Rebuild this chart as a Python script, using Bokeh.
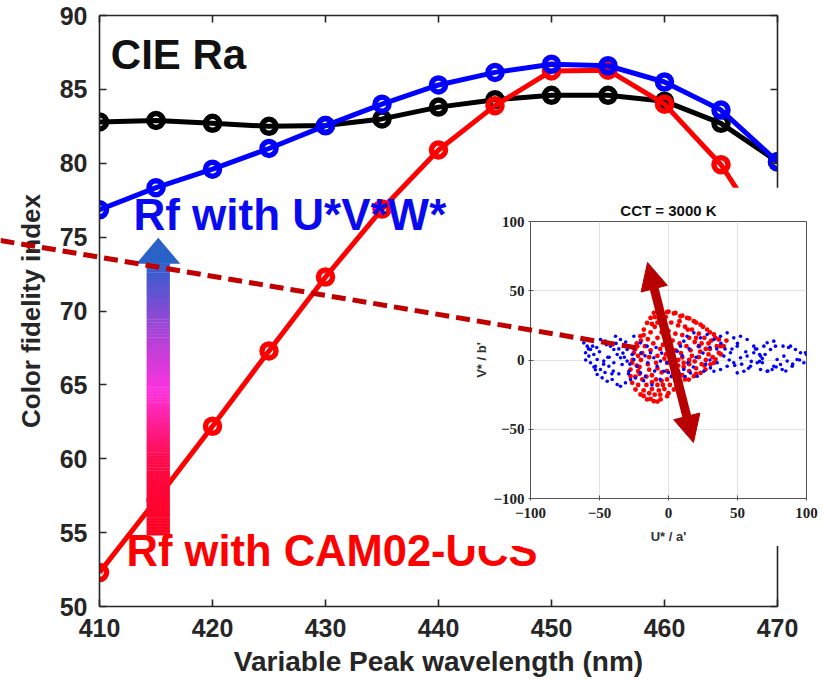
import numpy as np
from bokeh.plotting import figure
from bokeh.models import Range1d, LinearAxis, FixedTicker, Arrow, NormalHead, Label
from bokeh.embed import file_html
from bokeh.resources import INLINE

# ---------------- data ----------------
wavelength = [410, 415, 420, 425, 430, 435, 440, 445, 450, 455, 460, 465, 470]
cie_ra = [82.8, 82.9, 82.7, 82.5, 82.55, 83.0, 83.8, 84.3, 84.6, 84.6, 84.2, 82.7, 80.1]
rf_uvw = [76.85, 78.35, 79.6, 81.0, 82.55, 84.0, 85.3, 86.15, 86.7, 86.6, 85.5, 83.6, 80.1]
rf_cam = [52.3, 57.2, 62.2, 67.3, 72.3, 76.9, 80.9, 83.9, 86.25, 86.3, 84.0, 79.9, 74.0]
x_ticks = [410, 420, 430, 440, 450, 460, 470]
y_ticks = [50, 55, 60, 65, 70, 75, 80, 85, 90]

inset_ticks = [-100, -50, 0, 50, 100]
red_u = [-10.6, -5.8, -1.0, 3.9, 8.7, 13.5, 18.4, 23.2, 28.0, 32.9, 36.5, 37.7, 36.5, 34.1, 30.4, 26.8, 23.2, 18.4, 14.7, 8.7,
         3.9, -1.0, -5.8, -10.6, -15.5, -20.3, -23.9, -26.3, -27.5, -27.5, -26.3, -25.1, -22.7, -20.3, -17.9, -15.5, -13.0,
         -8, -3, 2, 7, 12, 17, 22, 26, 29, 30, 29, 27, 24, 20, 15, 10, 5, 1, -3, -7, -12, -16, -19, -21, -21, -20, -19, -17, -15, -13, -10,
         -5, 0, 5, 10, 15, 19, 22, 23, 22, 19, 15, 11, 7, 3, -1, -5, -9, -12, -14, -15, -14, -13, -11, -8,
         -2, 3, 8, 13, 16, 17, 15, 11, 7, 3, -1, -5, -8, -9, -8, -6, -4,
         1, 5, 9, 10, 7, 3, -1, -3, -2, 3,
         -24, -26, -22, -18, -13, -8, 0, 6, 12, 20, 26, 32, 35, 34, 30, 25, 20, 15, 10, 5, 0, -5, -10, -20, -23, 40, 42, 38, 33,
         -24, -22, -18, -14, -10, -6, -16, -12, -8, -4, 24, 27, 31, 20, 14, 8, -2, -7, -12, -18, -22, -23]
red_v = [34.1, 35.3, 34.5, 33.6, 31.6, 30.4, 28.0, 25.6, 22.0, 18.4, 14.8, 10.0, 5.2, 0.4, -3.2, -6.9, -9.3, -11.7, -14.1, -16.5,
         -21.3, -26.1, -28.5, -29.7, -28.5, -24.9, -21.3, -16.5, -11.7, -6.9, -2.0, 5.2, 10.0, 17.2, 22.0, 26.8, 30.4,
         27, 28, 27, 25, 24, 22, 19, 16, 12, 8, 4, 0, -3, -6, -8, -11, -14, -18, -21, -22, -21, -18, -14, -10, -5, 0, 5, 10, 15, 20, 24,
         20, 21, 19, 18, 16, 13, 10, 6, 2, -1, -3, -5, -8, -11, -14, -15, -14, -11, -7, -3, 2, 7, 12, 16,
         13, 14, 12, 10, 7, 3, 0, -2, -4, -6, -8, -9, -6, -2, 3, 8, 11,
         7, 7, 5, 2, 0, -1, -2, 1, 4, 3,
         8, 0, -18, -26, -28, -30, -24, -19, -14, -10, -4, 2, 10, 16, 20, 24, 27, 30, 32, 34, 35, 33, 31, 14, 12, 10, 14, 4, -2,
         -12, -8, -22, -24, -25, -25, -12, -16, -18, -18, 12, 8, 14, 16, 22, 28, 31, 30, 26, 18, 3, -4]
blue_u = [-61.4, -58.9, -56.5, -60.1, -57.7, -54.1, -51.7, -56.5, -52.9, -49.3, -51.7, -48.1, -44.4, -40.8, -37.2, -34.8, -31.2, -27.5,
          -49.3, -45.7, -42.0, -39.6, -37.2, -34.8, -39.6, -43.2, -46.9, -38.4, -34.8, -32.4, -30.0, -26.3, -30.0, -33.6, -25.1,
          -22.7, -20.3, -16.7, -28.7, -25.1, -20.3, -15.5, -13.0, -10.6, -5.8, -8.2, -3.4, -1.0, 2.7, 6.3, 8.7, 11.1, 13.5, 18.4,
          23.2, 28.0, 32.9, 37.7, 42.5, 47.3, 52.2, 57.0, 49.8, 44.9, 40.1, 35.3, 30.4, 25.6, 20.8, 15.9, 11.1, 32.9, 37.7, 42.5,
          47.3, 52.2, 57.0, 61.8, 66.7, 64.3, 59.4, 54.6, 49.8, 61.8, 69.1, 71.5, 76.3, 77.5, 73.9, 78.7, 81.2, 76.3, 71.5, 66.7,
          83.6, 86.0, 88.4, 92.0, 95.7, 93.2, 98.1, 99.3, 89.6, 82.4, 75.1,
          -20, -15, -10, -5, 0, 5, 10, 15, 20, 25, 30, -18, -12, -6, 2, 8, 14, 18, 22, 27, 35, 38, -25, -28, -32, -36, -40, -44,
          -46, -53, -55, -60, 44, 46, 50, 53, 56, 60, 63, 66, 68, 68, 66, 85, 78, 90, 95, 100, 87, 83, 72,
          -58, -54, -50, -47, -43, -41, -36, -33, -29, -45, -38, -52, -31, -24, -17, -9, 0, 12, 30, 41, 48, 58, 64, 70]
blue_v = [12.4, 10.0, 7.6, 5.2, 2.8, 4.0, 0.4, -2.0, -4.5, -6.9, -10.5, -12.9, -15.3, -14.1, -17.7, -18.9, -16.5, -14.1,
          14.8, 13.6, 10.0, 7.6, 4.0, 1.6, -2.0, -4.5, -0.8, 17.2, 14.8, 11.2, 7.6, 4.0, -0.8, -3.2, 0.4,
          -4.5, -9.3, -11.7, -8.1, 17.2, 12.4, 10.0, 5.2, 1.6, -0.8, -4.5, -8.1, -2.0, 2.8, 6.4, 10.0, 13.6, 17.2, 19.6,
          16.0, 18.4, 14.8, 17.2, 19.6, 16.0, 17.2, 14.8, 10.0, 5.2, 2.8, -2.0, -5.7, -8.1, -11.7, -9.3, -6.9, -8.1, -6.9, -4.5,
          -2.0, 1.6, 2.8, 5.2, 2.8, -2.0, -4.5, -8.1, -9.3, 10.0, 10.0, 12.4, 13.6, 10.0, 7.6, 0.4, -3.2, -4.5, -8.1, -6.9,
          2.8, -0.8, 10.0, 7.6, 5.2, 0.4, -2.0, 5.2, -4.5, -6.9, -6.9,
          5, -2, -8, 5, 8, -5, 3, 8, 2, 5, 0, -15, -18, -14, -12, -10, -2, -5, 10, -3, 8, 12, 8, -3, 2, 8, -8, 2,
          -9, -7, 10, 0, 0, 8, 12, -3, 6, -1, 8, 4, -2, 1, -1, -8, -5, -3, 0, 4, 9, 10, -8,
          8, -5, 6, -3, 2, -10, -10, 5, -10, 11, 12, 9, 13, -13, 3, 9, -9, -12, 9, 8, -4, -6, 8, 4]

# annotation positions (main-plot data units)
dash_x = [401.24, 457.9]
dash_y = [74.77, 67.46]

# ---------------- main figure ----------------
FL, FT, FW, FH, FR, FB = 99, 15, 678, 591, 50, 75
X0, X1, Y0, Y1 = 410, 470, 50, 90
AX = "#262626"
FONT = "Liberation Sans"

p = figure(x_range=Range1d(X0, X1), y_range=Range1d(Y0, Y1), width=FL + FW + FR, height=FT + FH + FB,
           min_border_left=FL, min_border_top=FT, min_border_right=FR, min_border_bottom=FB,
           output_backend="svg", toolbar_location=None, background_fill_color="white",
           border_fill_color="white", outline_line_color=None, sizing_mode="fixed")
p.xgrid.visible = False
p.ygrid.visible = False
p.xaxis.ticker = FixedTicker(ticks=x_ticks)
p.yaxis.ticker = FixedTicker(ticks=y_ticks)
for ax in (p.xaxis[0], p.yaxis[0]):
    ax.axis_line_color = AX
    ax.axis_line_width = 1.6
    ax.major_tick_line_color = AX
    ax.major_tick_line_width = 1.6
    ax.major_tick_in = 7
    ax.major_tick_out = 0
    ax.minor_tick_line_color = None
    ax.major_label_text_font = FONT
    ax.major_label_text_font_style = "bold"
    ax.major_label_text_font_size = "25px"
    ax.major_label_text_color = AX
    ax.axis_label_text_font = FONT
    ax.axis_label_text_font_style = "bold"
    ax.axis_label_text_color = AX
p.xaxis.axis_label_text_font_size = "28px"
p.yaxis.axis_label_text_font_size = "26px"
p.xaxis.major_label_standoff = 12
p.yaxis.major_label_standoff = 12
p.xaxis.axis_label = "Variable Peak wavelength (nm)"
p.yaxis.axis_label = "Color fidelity index"
p.xaxis.axis_label_standoff = 6
p.yaxis.axis_label_standoff = 11

for loc, tk in (("above", x_ticks), ("right", y_ticks)):
    a = LinearAxis(ticker=FixedTicker(ticks=tk), axis_line_color=AX, axis_line_width=1.6,
                   major_tick_line_color=AX, major_tick_line_width=1.6, major_tick_in=7, major_tick_out=0,
                   minor_tick_line_color=None, major_label_text_color=None, major_label_standoff=0)
    p.add_layout(a, loc)

for ys, col in ((cie_ra, "black"), (rf_cam, "#ff0000"), (rf_uvw, "#0000ff")):
    p.line(wavelength, ys, line_color=col, line_width=5, line_join="round")
    p.scatter(wavelength, ys, marker="circle", size=14, fill_color=None, line_color=col, line_width=5.5)

# gradient arrow
shaft_y0, shaft_y1, head_tip = 54.8, 73.2, 74.95
ax_c, shaft_hw, head_hw = 415.2, 1.03, 1.95
stops_y = [54.8, 60.0, 64.6, 68.7, 73.2]
stops_c = [(255, 0, 30), (255, 10, 75), (255, 50, 220), (165, 68, 215), (45, 95, 205)]
n = 92
edges = np.linspace(shaft_y0, shaft_y1, n + 1)
cols = []
for i in range(n):
    ym = 0.5 * (edges[i] + edges[i + 1])
    rgb = [int(round(np.interp(ym, stops_y, [c[k] for c in stops_c]))) for k in range(3)]
    cols.append("#%02x%02x%02x" % tuple(rgb))
p.quad(left=[ax_c - shaft_hw] * n, right=[ax_c + shaft_hw] * n, bottom=edges[:-1], top=edges[1:] + 0.03,
       fill_color=cols, line_color=None)
p.patch([ax_c - head_hw, ax_c + head_hw, ax_c], [shaft_y1, shaft_y1, head_tip], fill_color="#2a62c8", line_color=None)

p.add_layout(Label(x=411.0, y=85.8, text="CIE Ra", text_font=FONT, text_font_style="bold",
                   text_font_size="42px", text_color="#111111"))
p.add_layout(Label(x=413.0, y=74.9, text="Rf with U*V*W*", text_font=FONT, text_font_style="bold",
                   text_font_size="44px", text_color="#0a0af0"))
p.add_layout(Label(x=412.4, y=52.1, text="Rf with CAM02-UCS", text_font=FONT, text_font_style="bold",
                   text_font_size="43.5px", text_color="#ff0000"))

# ---------------- inset ----------------
IL, IT, IW, IH = 466, 187, 361, 359
inset = figure(x_range=Range1d(-100, 100), y_range=Range1d(-100, 100), width=IW, height=IH,
               min_border_left=64, min_border_top=34, min_border_right=21, min_border_bottom=47,
               output_backend="svg", toolbar_location=None, background_fill_color="white",
               border_fill_color="white", outline_line_color="#555555", outline_line_width=1,
               title="CCT = 3000 K", sizing_mode="fixed")
inset.title.align = "center"
inset.title.text_font = FONT
inset.title.text_font_size = "15px"
inset.title.text_font_style = "bold"
inset.title.text_color = "#111111"
inset.title.standoff = 6
inset.xaxis.ticker = FixedTicker(ticks=inset_ticks)
inset.yaxis.ticker = FixedTicker(ticks=inset_ticks)
for ax in (inset.xaxis[0], inset.yaxis[0]):
    ax.axis_line_color = "#555555"
    ax.major_tick_line_color = "#555555"
    ax.major_tick_in = 3
    ax.major_tick_out = 2
    ax.minor_tick_line_color = None
    ax.major_label_text_font = "Liberation Serif"
    ax.major_label_text_font_style = "bold"
    ax.major_label_text_font_size = "15px"
    ax.major_label_text_color = "#222222"
    ax.axis_label_text_font = FONT
    ax.axis_label_text_font_style = "bold"
    ax.axis_label_text_font_size = "13px"
    ax.axis_label_text_color = "#333333"
inset.xaxis.major_label_standoff = 7
inset.xaxis.axis_label_standoff = 8
inset.yaxis.major_label_standoff = 4
inset.yaxis.axis_label_standoff = 1
inset.xaxis.axis_label = "U* / a'"
inset.yaxis.axis_label = "V* / b'"
inset.grid.grid_line_color = "#e2e2e2"
inset.grid.ticker = FixedTicker(ticks=inset_ticks)

inset.scatter(red_u, red_v, marker="circle", size=4.8, fill_color="#ff0000", line_color=None)
inset.scatter(blue_u, blue_v, marker="circle", size=3.6, fill_color="#0000ff", line_color=None)
inset.add_layout(Arrow(x_start=-15.2, y_start=70.4, x_end=18.1, y_end=-59.6, line_color="#b80000", line_width=9,
                       start=NormalHead(size=27, fill_color="#b80000", line_color="#b80000"),
                       end=NormalHead(size=27, fill_color="#b80000", line_color="#b80000")))
inset.styles = {"position": "absolute", "left": "%dpx" % IL, "top": "%dpx" % IT}

# ---------------- overlay (dashed pointer) ----------------
ppx = FW / (X1 - X0)
ppy = FH / (Y1 - Y0)
ov = figure(width=827, height=681, min_border=0, sizing_mode="fixed",
            x_range=Range1d(X0 - FL / ppx, X1 + FR / ppx), y_range=Range1d(Y0 - FB / ppy, Y1 + FT / ppy),
            output_backend="svg", toolbar_location=None, x_axis_location=None, y_axis_location=None,
            background_fill_alpha=0, border_fill_alpha=0, outline_line_color=None)
ov.xgrid.visible = False
ov.ygrid.visible = False
ov.line(dash_x, dash_y, line_color="#c00000", line_width=5, line_dash="14 7")
ov.styles = {"position": "absolute", "left": "0px", "top": "0px"}
p.styles = {"position": "absolute", "left": "0px", "top": "0px"}

open("out.html", "w").write(file_html([p, inset, ov], INLINE))
